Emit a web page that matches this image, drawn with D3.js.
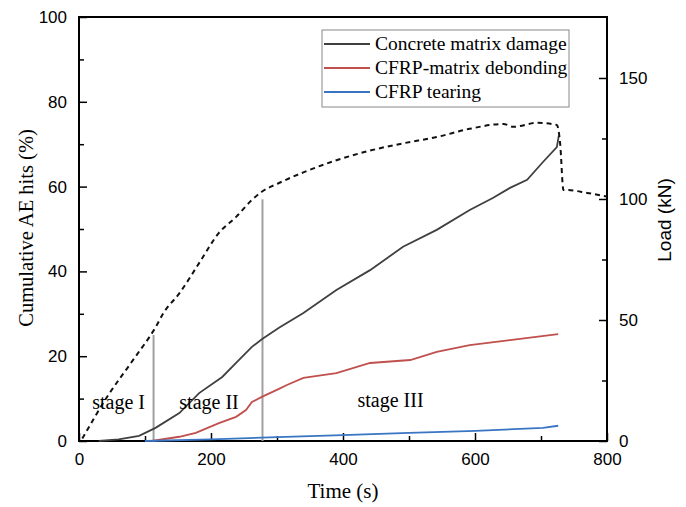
<!DOCTYPE html>
<html>
<head>
<meta charset="utf-8">
<script src="https://cdn.jsdelivr.net/npm/d3@7"></script>
<style>
  body { margin: 0; background: #fff; }
  text { fill: #000; }
  .tick text { font-family: "Liberation Sans", Arial, sans-serif; font-size: 17px; fill: #000; }
</style>
</head>
<body>
<svg id="chart" width="686" height="507"></svg>
<script>
// data
const concreteT = [30, 60, 91, 116, 152, 182, 217, 238, 262, 277, 303, 340, 390, 441, 491, 542, 592, 627, 653, 679, 703, 724, 727];
const concreteV = [0, 0.4, 1.2, 3.1, 6.6, 11.3, 15.1, 18.4, 22.2, 24.0, 26.7, 30.2, 35.6, 40.3, 45.8, 49.8, 54.5, 57.3, 59.7, 61.6, 65.8, 69.3, 72.0];

const debondT = [110, 152, 177, 212, 238, 253, 262, 277, 303, 315, 340, 390, 441, 502, 542, 592, 653, 726];
const debondV = [0, 1.0, 1.9, 4.2, 5.7, 7.3, 9.2, 10.4, 12.3, 13.2, 14.9, 16.0, 18.4, 19.1, 21.0, 22.6, 23.8, 25.2];

const tearT = [100, 200, 300, 400, 500, 601, 703, 726];
const tearV = [0, 0.4, 0.9, 1.4, 1.9, 2.4, 3.1, 3.6];

const loadT = [5, 42, 82, 116, 128, 152, 182, 212, 238, 262, 277, 303, 340, 390, 441, 491, 542, 592, 643, 658, 694, 724, 729, 734, 739, 770, 800];
const loadV = [1, 18, 33.5, 47, 52.9, 61, 73.5, 86, 92.6, 99.6, 103, 106.6, 111, 116, 120, 123, 125.6, 129, 131, 129.8, 131.5, 130.6, 123, 103.7, 103.7, 102.5, 101];

const stageLines = [{t: 113, top: 25}, {t: 278, top: 57}];
const stageLabels = [{t: 20, v: 7.5, text: "stage I"}, {t: 152, v: 7.5, text: "stage II"}, {t: 422, v: 8, text: "stage III"}];

const seriesNames = ["Concrete matrix damage", "CFRP-matrix debonding", "CFRP tearing"];
const seriesColors = ["#404040", "#c0504d", "#3a75c4"];

const margin = {top: 17, right: 79, bottom: 66, left: 79};
const width = 686 - margin.left - margin.right;
const height = 507 - margin.top - margin.bottom;

const serif = '"Liberation Serif", "Times New Roman", serif';

const svg = d3.select('#chart')
  .append('g')
  .attr('transform', 'translate(' + margin.left + ',' + margin.top + ')');

const x = d3.scaleLinear().domain([0, 800]).range([0, width]);
const y = d3.scaleLinear().domain([0, 100]).range([height, 0]);
const yLoad = d3.scaleLinear().domain([0, 175.2]).range([height, 0]);

// minor ticks
svg.append('g')
  .attr('transform', 'translate(0,' + height + ')')
  .call(d3.axisBottom(x).tickValues(d3.range(100, 800, 200)).tickSize(-5).tickFormat(''));
svg.append('g')
  .call(d3.axisLeft(y).tickValues(d3.range(10, 100, 20)).tickSize(-5).tickFormat(''));
svg.append('g')
  .attr('transform', 'translate(' + width + ',0)')
  .call(d3.axisRight(yLoad).tickValues([25, 75, 125]).tickSize(-5).tickFormat(''));

// major ticks
svg.append('g')
  .attr('transform', 'translate(0,' + height + ')')
  .call(d3.axisBottom(x).tickValues(d3.range(0, 801, 200)).tickSize(-8).tickPadding(12));
svg.append('g')
  .call(d3.axisLeft(y).tickValues(d3.range(0, 101, 20)).tickSize(-8).tickPadding(12));
svg.append('g')
  .attr('transform', 'translate(' + width + ',0)')
  .call(d3.axisRight(yLoad).tickValues([0, 50, 100, 150]).tickSize(-8).tickPadding(12));

svg.selectAll('.tick line').attr('stroke', '#000').attr('stroke-width', 1.5);
svg.selectAll('.domain').remove();

// frame
svg.append('rect')
  .attr('width', width).attr('height', height)
  .attr('fill', 'none').attr('stroke', '#000').attr('stroke-width', 2);

// stage boundary lines
svg.selectAll('.stage-line')
  .data(stageLines)
  .enter()
  .append('line')
  .attr('x1', d => x(d.t)).attr('x2', d => x(d.t))
  .attr('y1', y(0)).attr('y2', d => y(d.top))
  .attr('stroke', '#a0a0a0').attr('stroke-width', 2);

// AE curves
const line = d3.line().x(d => x(d[0])).y(d => y(d[1]));
const series = [
  d3.zip(concreteT, concreteV),
  d3.zip(debondT, debondV),
  d3.zip(tearT, tearV)
];
svg.selectAll('.ae')
  .data(series)
  .enter()
  .append('path')
  .attr('d', line)
  .attr('fill', 'none')
  .attr('stroke', (d, i) => seriesColors[i])
  .attr('stroke-width', 1.8);

// load curve
const loadLine = d3.line().x(d => x(d[0])).y(d => yLoad(d[1])).curve(d3.curveMonotoneX);
svg.append('path')
  .datum(d3.zip(loadT, loadV))
  .attr('d', loadLine)
  .attr('fill', 'none')
  .attr('stroke', '#111')
  .attr('stroke-width', 2)
  .attr('stroke-dasharray', '5,4');

// stage labels
svg.selectAll('.stage-label')
  .data(stageLabels)
  .enter()
  .append('text')
  .attr('x', d => x(d.t)).attr('y', d => y(d.v))
  .attr('font-family', serif)
  .attr('font-size', 20)
  .text(d => d.text);

// legend
const legend = svg.append('g').attr('transform', 'translate(' + (322 - margin.left) + ',' + (30 - margin.top) + ')');
legend.append('rect')
  .attr('width', 247).attr('height', 77)
  .attr('fill', '#fff').attr('stroke', '#888').attr('stroke-width', 1);
seriesNames.forEach((name, i) => {
  const ly = 14 + i * 24;
  legend.append('line')
    .attr('x1', 2).attr('x2', 48).attr('y1', ly).attr('y2', ly)
    .attr('stroke', seriesColors[i]).attr('stroke-width', 2);
  legend.append('text')
    .attr('x', 53).attr('y', ly + 6)
    .attr('font-family', serif)
    .attr('font-size', 19.5)
    .text(name);
});

// axis titles
svg.append('text')
  .attr('transform', 'translate(' + (26 - margin.left) + ',' + (228 - margin.top) + ') rotate(-90)')
  .attr('text-anchor', 'middle')
  .attr('dy', '0.35em')
  .attr('font-family', serif)
  .attr('font-size', 20.5)
  .text('Cumulative AE hits (%)');
svg.append('text')
  .attr('x', width / 2).attr('y', 498 - margin.top)
  .attr('text-anchor', 'middle')
  .attr('font-family', serif)
  .attr('font-size', 21)
  .text('Time (s)');
svg.append('text')
  .attr('transform', 'translate(' + (664 - margin.left) + ',' + (220 - margin.top) + ') rotate(-90)')
  .attr('text-anchor', 'middle')
  .attr('dy', '0.35em')
  .attr('font-family', '"Liberation Sans", Arial, sans-serif')
  .attr('font-size', 19)
  .text('Load (kN)');
</script>
</body>
</html>
